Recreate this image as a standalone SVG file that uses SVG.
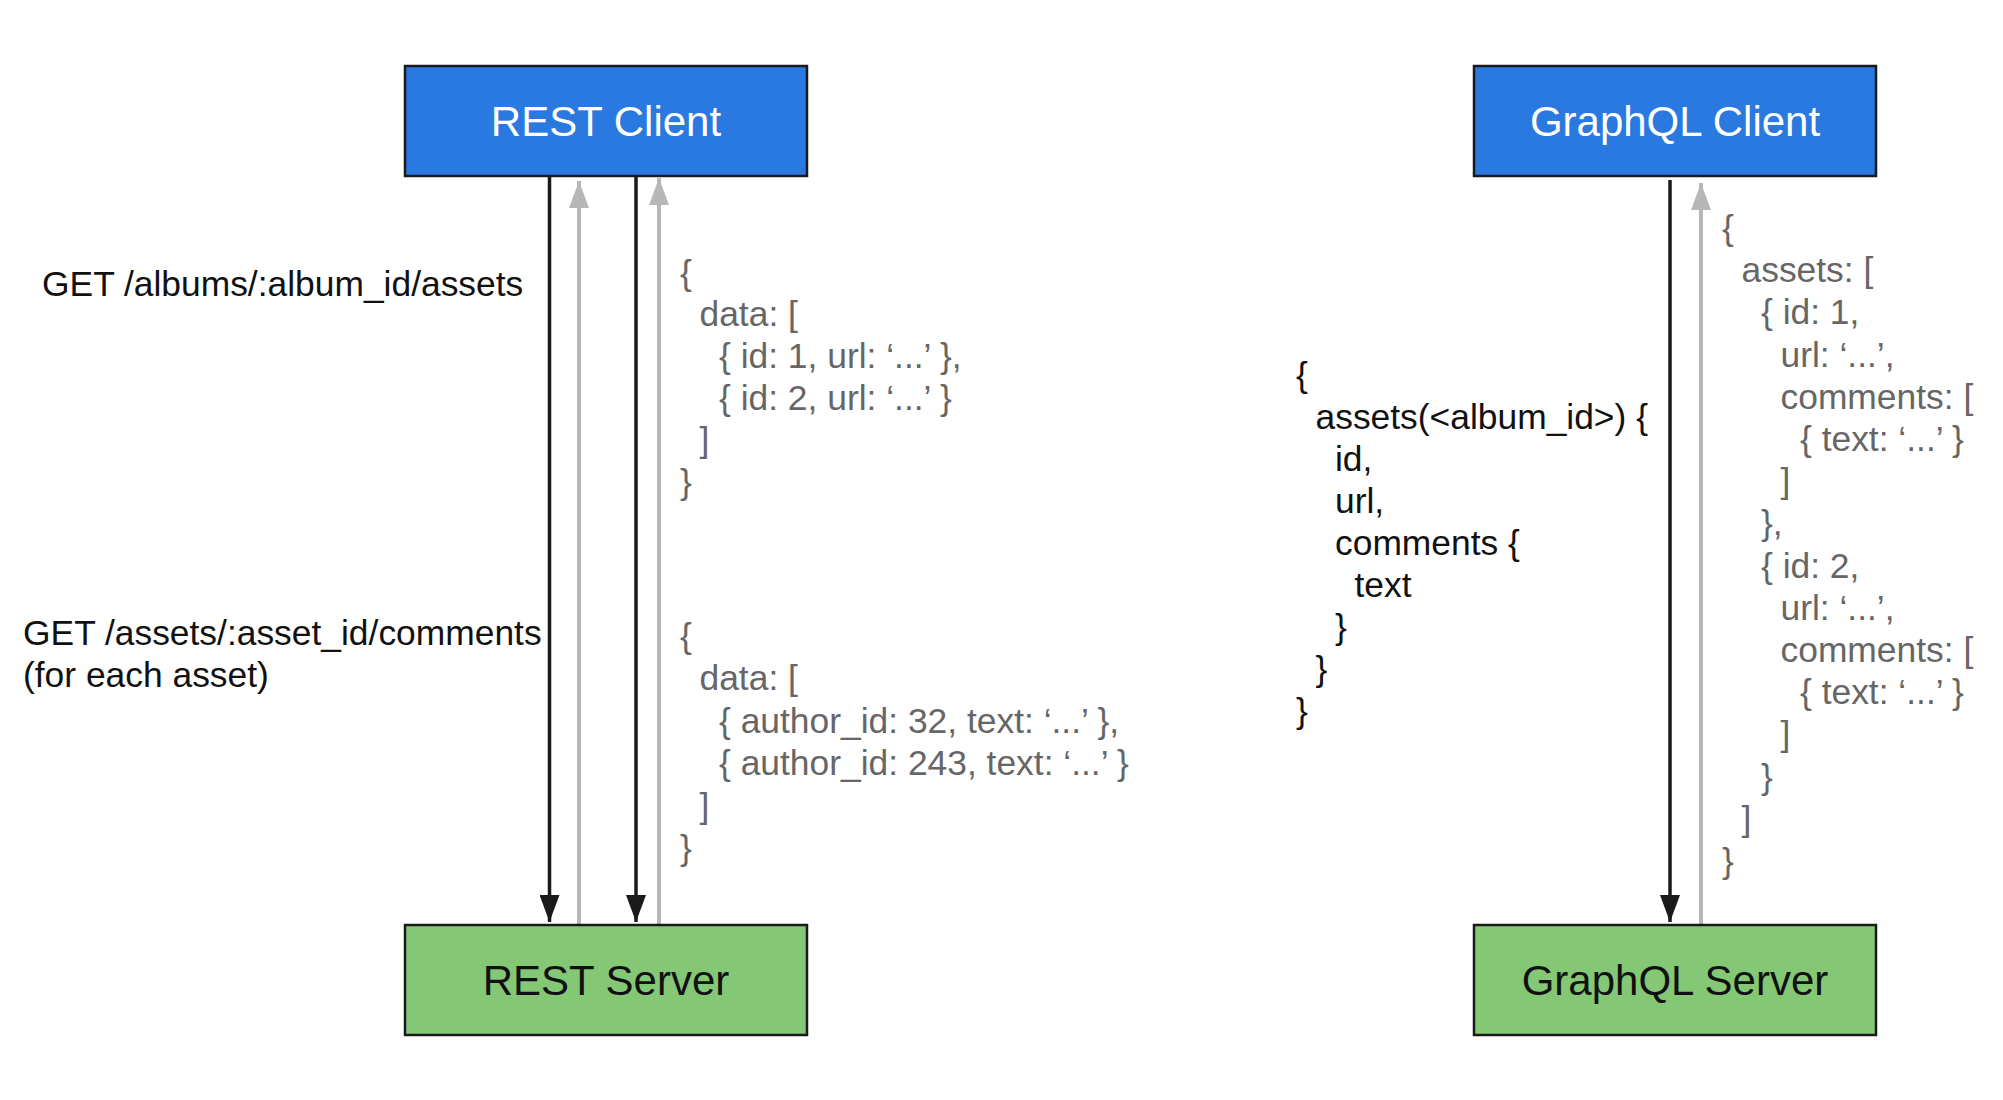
<svg xmlns="http://www.w3.org/2000/svg" width="2003" height="1100" viewBox="0 0 2003 1100">
  <style>
    .client { fill: #2a79e0; stroke: #1a1a1a; stroke-width: 2.5; }
    .server { fill: #84c876; stroke: #1a1a1a; stroke-width: 2.5; }
    .title { font-family: "Liberation Sans", Arial, sans-serif; font-size: 42px; text-anchor: middle; }
    .title.light { fill: #ffffff; }
    .title.dark { fill: #111111; }
    .label { font-family: "Liberation Sans", Arial, sans-serif; font-size: 35.4px; fill: #111111; }
    .code { font-family: "Liberation Sans", Arial, sans-serif; font-size: 35.4px; fill: #111111; }
    .reply { font-family: "Liberation Sans", Arial, sans-serif; font-size: 35.4px; fill: #666666; }
    .req { stroke: #1a1a1a; stroke-width: 3.5; fill: none; marker-end: url(#headDark); }
    .res { stroke: #b7b7b7; stroke-width: 4; fill: none; marker-end: url(#headLight); }
  </style>
  <defs>
    <marker id="headDark" markerUnits="userSpaceOnUse" markerWidth="27" markerHeight="20" refX="27" refY="10" orient="auto" viewBox="0 0 27 20">
      <path d="M0,0 L27,10 L0,20 Z" fill="#1a1a1a"/>
    </marker>
    <marker id="headLight" markerUnits="userSpaceOnUse" markerWidth="27" markerHeight="20" refX="27" refY="10" orient="auto" viewBox="0 0 27 20">
      <path d="M0,0 L27,10 L0,20 Z" fill="#b7b7b7"/>
    </marker>
  </defs>

  <rect width="2003" height="1100" fill="#ffffff"/>

  <!-- request / response arrows -->
  <g id="connectors">
    <line class="req" x1="549.5" y1="177" x2="549.5" y2="922"/>
    <line class="res" x1="579" y1="924" x2="579" y2="181"/>
    <line class="req" x1="636" y1="177" x2="636" y2="922"/>
    <line class="res" x1="659" y1="924" x2="659" y2="178"/>
    <line class="req" x1="1670" y1="180" x2="1670" y2="922"/>
    <line class="res" x1="1701" y1="924" x2="1701" y2="183"/>
  </g>

  <g id="rest-client">
    <rect class="client" x="405" y="66" width="402" height="110"/>
    <text class="title light" x="606" y="136">REST Client</text>
  </g>

  <g id="rest-server">
    <rect class="server" x="405" y="925" width="402" height="110"/>
    <text class="title dark" x="606" y="995">REST Server</text>
  </g>

  <g id="graphql-client">
    <rect class="client" x="1474" y="66" width="402" height="110"/>
    <text class="title light" x="1675" y="136">GraphQL Client</text>
  </g>

  <g id="graphql-server">
    <rect class="server" x="1474" y="925" width="402" height="110"/>
    <text class="title dark" x="1675" y="995">GraphQL Server</text>
  </g>

  <!-- REST requests -->
  <g id="rest-requests">
    <text class="label" x="42" y="296">GET /albums/:album_id/assets</text>
    <text class="label" x="23" y="645">GET /assets/:asset_id/comments</text>
    <text class="label" x="23" y="687">(for each asset)</text>
  </g>

  <!-- REST responses -->
  <g id="rest-responses">
    <text class="reply" x="680" y="285">{</text>
    <text class="reply" x="699.5" y="326">data: [</text>
    <text class="reply" x="719" y="368">{ id: 1, url: ‘...’ },</text>
    <text class="reply" x="719" y="410">{ id: 2, url: ‘...’ }</text>
    <text class="reply" x="699.5" y="452">]</text>
    <text class="reply" x="680" y="494">}</text>

    <text class="reply" x="680" y="648">{</text>
    <text class="reply" x="699.5" y="690">data: [</text>
    <text class="reply" x="719" y="732.5">{ author_id: 32, text: ‘...’ },</text>
    <text class="reply" x="719" y="775">{ author_id: 243, text: ‘...’ }</text>
    <text class="reply" x="699.5" y="817.5">]</text>
    <text class="reply" x="680" y="860">}</text>
  </g>

  <!-- GraphQL query -->
  <g id="graphql-query">
    <text class="code" x="1296" y="387">{</text>
    <text class="code" x="1315.5" y="429">assets(&lt;album_id&gt;) {</text>
    <text class="code" x="1335" y="471">id,</text>
    <text class="code" x="1335" y="513">url,</text>
    <text class="code" x="1335" y="555">comments {</text>
    <text class="code" x="1354.5" y="597">text</text>
    <text class="code" x="1335" y="639">}</text>
    <text class="code" x="1315.5" y="681">}</text>
    <text class="code" x="1296" y="723">}</text>
  </g>

  <!-- GraphQL response -->
  <g id="graphql-response">
    <text class="reply" x="1722" y="240">{</text>
    <text class="reply" x="1741.5" y="282">assets: [</text>
    <text class="reply" x="1761" y="324">{ id: 1,</text>
    <text class="reply" x="1780.5" y="367">url: ‘...’,</text>
    <text class="reply" x="1780.5" y="409">comments: [</text>
    <text class="reply" x="1800" y="451">{ text: ‘...’ }</text>
    <text class="reply" x="1780.5" y="493">]</text>
    <text class="reply" x="1761" y="535">},</text>
    <text class="reply" x="1761" y="578">{ id: 2,</text>
    <text class="reply" x="1780.5" y="620">url: ‘...’,</text>
    <text class="reply" x="1780.5" y="662">comments: [</text>
    <text class="reply" x="1800" y="704">{ text: ‘...’ }</text>
    <text class="reply" x="1780.5" y="746">]</text>
    <text class="reply" x="1761" y="789">}</text>
    <text class="reply" x="1741.5" y="831">]</text>
    <text class="reply" x="1722" y="873">}</text>
  </g>
</svg>
